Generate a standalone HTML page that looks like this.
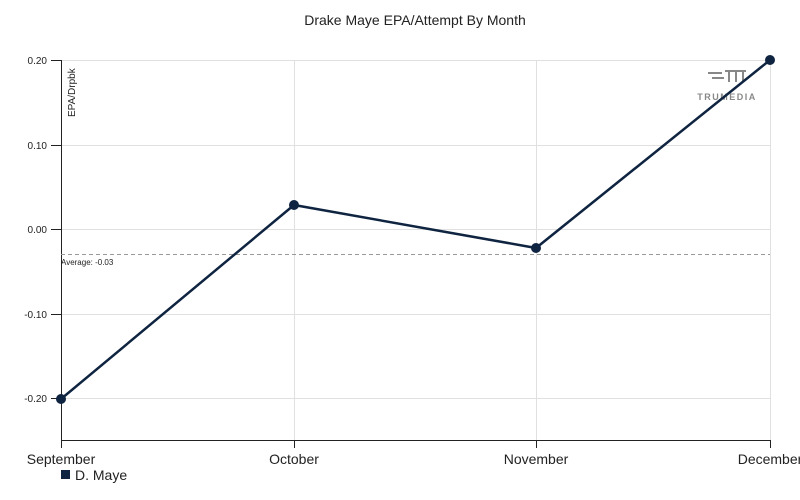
<!DOCTYPE html>
<html><head><meta charset="utf-8"><style>
body{margin:0;background:#fff;}
svg{font-family:"Liberation Sans",sans-serif;display:block}
</style></head><body>
<svg width="800" height="500" viewBox="0 0 800 500">
<text x="415" y="25" text-anchor="middle" font-size="14" fill="#222">Drake Maye EPA/Attempt By Month</text>
<g stroke="#e0e0e0" stroke-width="1">
<line x1="61" y1="60.5" x2="770" y2="60.5"/>
<line x1="61" y1="145.5" x2="770" y2="145.5"/>
<line x1="61" y1="229.5" x2="770" y2="229.5"/>
<line x1="61" y1="314.5" x2="770" y2="314.5"/>
<line x1="61" y1="398.5" x2="770" y2="398.5"/>
<line x1="294.5" y1="60" x2="294.5" y2="440"/>
<line x1="536.5" y1="60" x2="536.5" y2="440"/>
<line x1="770.5" y1="60" x2="770.5" y2="440"/>
</g>
<g stroke="#222" stroke-width="1">
<line x1="61.5" y1="60" x2="61.5" y2="440"/>
<line x1="61" y1="440.5" x2="770" y2="440.5"/>
<line x1="51" y1="60.5" x2="61" y2="60.5"/>
<line x1="51" y1="145.5" x2="61" y2="145.5"/>
<line x1="51" y1="229.5" x2="61" y2="229.5"/>
<line x1="51" y1="314.5" x2="61" y2="314.5"/>
<line x1="51" y1="398.5" x2="61" y2="398.5"/>
<line x1="61.5" y1="440" x2="61.5" y2="448"/>
<line x1="294.5" y1="440" x2="294.5" y2="448"/>
<line x1="536.5" y1="440" x2="536.5" y2="448"/>
<line x1="770.5" y1="440" x2="770.5" y2="448"/>
</g>
<g font-size="10" fill="#222" text-anchor="end">
<text x="47" y="64">0.20</text>
<text x="47" y="149">0.10</text>
<text x="47" y="233">0.00</text>
<text x="47" y="318">-0.10</text>
<text x="47" y="402">-0.20</text>
</g>
<text transform="translate(75,117) rotate(-90)" font-size="10" fill="#222">EPA/Drpbk</text>
<g font-size="14" fill="#222" text-anchor="middle">
<text x="61" y="464">September</text>
<text x="294" y="464">October</text>
<text x="536" y="464">November</text>
<text x="770" y="464">December</text>
</g>
<line x1="61" y1="254.5" x2="770" y2="254.5" stroke="#999" stroke-dasharray="4,3"/>
<text x="61" y="265" font-size="8" fill="#222">Average: -0.03</text>
<g fill="#888">
<rect x="708" y="72" width="14" height="2"/><rect x="712" y="77" width="12" height="2"/>
<rect x="725" y="70" width="21" height="2"/><rect x="728" y="72" width="2" height="10"/><rect x="735" y="72" width="2" height="10"/><rect x="742" y="72" width="2" height="10"/>
</g>
<text x="727" y="100" font-size="9" fill="#888" text-anchor="middle" letter-spacing="1.5" font-weight="bold">TRUMEDIA</text>
<polyline points="61,399 294,205 536,248 770,60" fill="none" stroke="#0f2440" stroke-width="2.5"/>
<g fill="#0f2440">
<circle cx="61" cy="399" r="5"/><circle cx="294" cy="205" r="5"/><circle cx="536" cy="248" r="5"/><circle cx="770" cy="60" r="5"/>
</g>
<rect x="61" y="470" width="9" height="9" fill="#0f2440"/>
<text x="75" y="480" font-size="14" fill="#222">D. Maye</text>
</svg>
</body></html>
